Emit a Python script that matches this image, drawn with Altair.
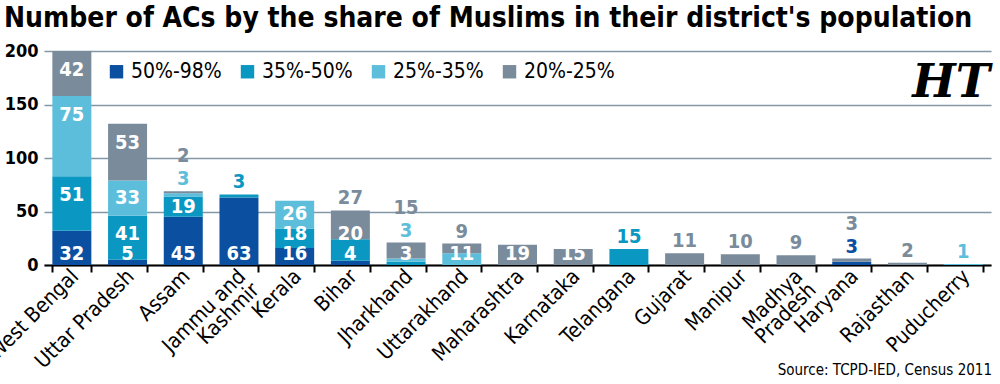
import altair as alt
import pandas as pd

states = ["West Bengal", "Uttar Pradesh", "Assam", "Jammu and Kashmir", "Kerala",
          "Bihar", "Jharkhand", "Uttarakhand", "Maharashtra", "Karnataka",
          "Telangana", "Gujarat", "Manipur", "Madhya Pradesh", "Haryana",
          "Rajasthan", "Puducherry"]
bands = ["50%-98%", "35%-50%", "25%-35%", "20%-25%"]
acs_50_98 = [32, 5, 45, 63, 16, 4, 0, 0, 0, 0, 0, 0, 0, 0, 3, 0, 0]
acs_35_50 = [51, 41, 19, 3, 18, 20, 3, 0, 0, 0, 15, 0, 0, 0, 0, 0, 0]
acs_25_35 = [75, 33, 3, 0, 26, 0, 3, 11, 0, 0, 0, 0, 0, 0, 0, 0, 1]
acs_20_25 = [42, 53, 2, 0, 0, 27, 15, 9, 19, 15, 0, 11, 10, 9, 3, 2, 0]
band_colors = ["#0b4fa0", "#0a98c2", "#5dbedb", "#7a8c9b"]

# labels that the reference prints above the bar instead of inside it
labels_above = [("Assam", "25%-35%"), ("Assam", "20%-25%"),
                ("Jammu and Kashmir", "35%-50%"), ("Bihar", "20%-25%"),
                ("Jharkhand", "25%-35%"), ("Jharkhand", "20%-25%"),
                ("Uttarakhand", "20%-25%"), ("Telangana", "35%-50%"),
                ("Gujarat", "20%-25%"), ("Manipur", "20%-25%"),
                ("Madhya Pradesh", "20%-25%"), ("Haryana", "50%-98%"),
                ("Haryana", "20%-25%"), ("Rajasthan", "20%-25%"),
                ("Puducherry", "25%-35%")]

TITLE = "Number of ACs by the share of Muslims in their district's population"
SOURCE = "Source: TCPD-IED, Census 2011"
FONT = "DejaVu Sans Condensed, DejaVu Sans, sans-serif"

series = [acs_50_98, acs_35_50, acs_25_35, acs_20_25]
rows = []
for i, st in enumerate(states):
    cum = 0
    total = sum(s[i] for s in series)
    prev = None
    k = 0
    for b, (band, s) in enumerate(zip(bands, series)):
        v = s[i]
        if v == 0:
            continue
        lo, hi = cum, cum + v
        cum = hi
        row = dict(state=st, band=band, order=b, value=v, y0=lo, y1=hi,
                   total=total, inside=None, rank=None)
        if (st, band) in labels_above:
            row["rank"] = k
            k += 1
        else:
            if lo == 0:
                ly = 10
            else:
                ly = max((lo + hi) / 2, hi - 18, (prev or 0) + 19)
            row["inside"] = ly
            prev = ly
        rows.append(row)
df = pd.DataFrame(rows)

color_scale = alt.Scale(domain=bands, range=band_colors)
xenc = alt.X("state:N", sort=states, title=None,
             scale=alt.Scale(paddingInner=0.3, paddingOuter=0.15),
             axis=alt.Axis(labelAngle=-45, labelAlign="right", labelBaseline="middle",
                           labelFont=FONT, labelFontSize=21,
                           labelColor="#000", domainColor="#000", domainWidth=2,
                           tickColor="#000", tickWidth=2, tickSize=7,
                           tickBand="extent", labelPadding=1, labelOffset=3,
                           labelLineHeight=19,
                           labelExpr="datum.value == 'Jammu and Kashmir' ? ['Jammu and', 'Kashmir'] : datum.value == 'Madhya Pradesh' ? ['Madhya', 'Pradesh'] : datum.label"))
yscale = alt.Scale(domain=[0, 200], nice=False)

bars = alt.Chart(df).mark_bar().encode(
    x=xenc,
    y=alt.Y("y0:Q", scale=yscale, title=None,
            axis=alt.Axis(values=[0, 50, 100, 150, 200], domain=False, ticks=False,
                          labelFont=FONT, labelFontSize=18, labelFontWeight="bold",
                          labelColor="#000", labelPadding=6,
                          gridColor="#8497a6", gridWidth=1.5)),
    y2="y1:Q",
    color=alt.Color("band:N", scale=color_scale, title=None,
                    legend=alt.Legend(orient="none", legendX=62, legendY=10,
                                      direction="horizontal", columns=4,
                                      symbolType="square", symbolSize=180,
                                      symbolStrokeWidth=0, symbolOpacity=1,
                                      labelFont=FONT, labelFontSize=21,
                                      labelColor="#000", labelOffset=4,
                                      columnPadding=15)),
)

inside = alt.Chart(df).transform_filter("datum.inside != null").mark_text(
    font=FONT, fontSize=20, fontWeight="bold", color="white", baseline="middle"
).encode(x=alt.X("state:N", sort=states), y=alt.Y("inside:Q", scale=yscale),
         text="value:Q")

above = []
for r, gap in [(0, 12), (1, 35)]:
    above.append(alt.Chart(df).transform_filter(f"datum.rank == {r}").mark_text(
        font=FONT, fontSize=20, fontWeight="bold", baseline="middle", dy=-gap
    ).encode(x=alt.X("state:N", sort=states), y=alt.Y("total:Q", scale=yscale),
             text="value:Q",
             color=alt.Color("band:N", scale=color_scale, legend=None)))

notes = pd.DataFrame({"t": [SOURCE]})
source = alt.Chart(notes).mark_text(font=FONT, fontSize=15, align="right",
                                    baseline="alphabetic", color="#000").encode(
    text="t:N", x=alt.value(948), y=alt.value(324))
title_df = pd.DataFrame({"t": [TITLE]})
title = alt.Chart(title_df).mark_text(font=FONT, fontSize=28, fontWeight="bold",
                                      align="left", baseline="alphabetic",
                                      color="#000").encode(
    text="t:N", x=alt.value(-40), y=alt.value(-24))
logo_df = pd.DataFrame({"t": ["HT"]})
logo = alt.Chart(logo_df).mark_text(font="DejaVu Serif", fontSize=46,
                                    fontWeight="bold", fontStyle="italic",
                                    align="right", baseline="alphabetic",
                                    color="#000").encode(
    text="t:N", x=alt.value(946), y=alt.value(46))

chart = alt.layer(bars, inside, *above, source, title, logo).properties(
    width=947, height=214,
    padding={"left": 44, "top": 51, "right": 9, "bottom": 119},
    autosize="none",
).configure_view(stroke=None).configure_axisY(grid=True).configure_axisX(grid=False)

chart.save("out.html", embed_options={"renderer": "svg", "actions": False})
